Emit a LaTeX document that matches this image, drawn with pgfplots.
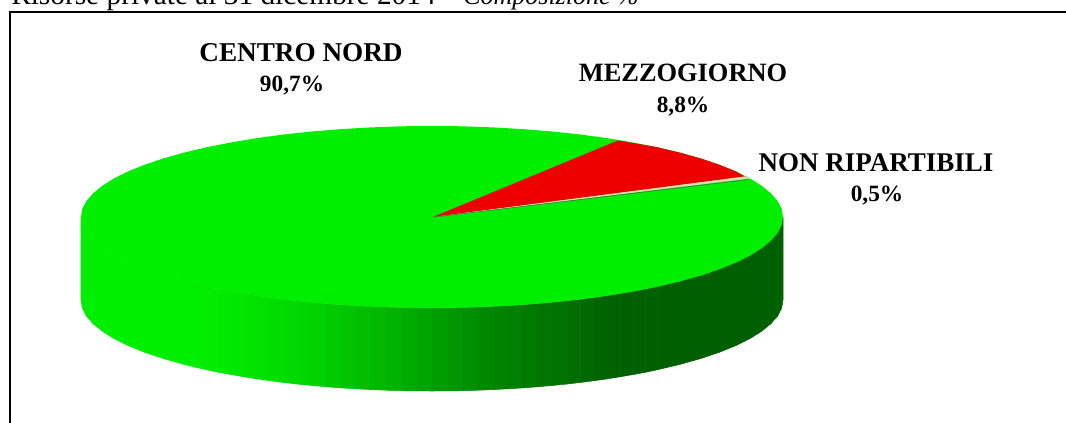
\documentclass[border=0pt]{standalone}
\usepackage{fontspec}
\setmainfont{Liberation Serif}
\usepackage{pgfplots}
\pgfplotsset{compat=1.18}

% axis runs in image pixels, 1 px = 0.75 pt
\definecolor{topgreen}{RGB}{0,238,0}
\definecolor{topred}{RGB}{238,0,0}
\definecolor{sliver}{RGB}{226,218,178}

% side wall of the disc: one row along the rim, one row along the lower edge
\pgfplotstableread{
x y g
81 217 238
82.3 224.9 238
86.3 232.8 238
93 240.6 238
102.2 248.1 238
113.9 255.5 238
128 262.5 238
144.5 269.2 238
163.1 275.5 238
183.8 281.3 238
194.9 284.1 237
206.4 286.7 236
218.3 289.2 234
230.7 291.5 232
243.4 293.7 229
256.5 295.8 226
269.9 297.7 222
283.7 299.5 219
297.7 301.1 215
312 302.5 212
326.5 303.8 205
341.2 304.9 198
356 305.8 192
371.1 306.6 186
386.2 307.2 180
401.4 307.7 174
416.7 307.9 167
432 308 160
447.3 307.9 153
462.6 307.7 146
477.8 307.2 140
492.9 306.6 134
508 305.8 129
522.8 304.9 124
537.5 303.8 120
552 302.5 116
566.3 301.1 112
580.3 299.5 108
594.1 297.7 103
607.5 295.8 98
620.6 293.7 97
633.3 291.5 96
645.7 289.2 96
657.6 286.7 96
680.2 281.3 96
700.9 275.5 96
719.5 269.2 96
736 262.5 96
750.1 255.5 96
761.8 248.1 96
771 240.6 96
777.7 232.8 96
781.7 224.9 96
783 217 96
81 300 238
82.3 307.9 238
86.3 315.8 238
93 323.6 238
102.2 331.1 238
113.9 338.5 238
128 345.5 238
144.5 352.2 238
163.1 358.5 238
183.8 364.3 238
194.9 367.1 237
206.4 369.7 236
218.3 372.2 234
230.7 374.5 232
243.4 376.7 229
256.5 378.8 226
269.9 380.7 222
283.7 382.5 219
297.7 384.1 215
312 385.5 212
326.5 386.8 205
341.2 387.9 198
356 388.8 192
371.1 389.6 186
386.2 390.2 180
401.4 390.7 174
416.7 390.9 167
432 391 160
447.3 390.9 153
462.6 390.7 146
477.8 390.2 140
492.9 389.6 134
508 388.8 129
522.8 387.9 124
537.5 386.8 120
552 385.5 116
566.3 384.1 112
580.3 382.5 108
594.1 380.7 103
607.5 378.8 98
620.6 376.7 97
633.3 374.5 96
645.7 372.2 96
657.6 369.7 96
680.2 364.3 96
700.9 358.5 96
719.5 352.2 96
736 345.5 96
750.1 338.5 96
761.8 331.1 96
771 323.6 96
777.7 315.8 96
781.7 307.9 96
783 300 96
}\wall

\begin{document}
\begin{tikzpicture}
\path[use as bounding box, clip] (0,0) rectangle (799.5pt,317.25pt);
\begin{axis}[
    at={(0,0)}, anchor=south west,
    scale only axis,
    width=799.5pt,
    height=317.25pt,
    xmin=0, xmax=1066,
    ymin=0, ymax=423,
    y dir=reverse,
    hide axis,
    clip=false,
    colormap={wallgreen}{rgb255=(0,96,0) rgb255=(0,238,0)},
    point meta min=96,
    point meta max=238,
]
% frame, open at the bottom and on the right
\addplot[black, line width=1.5pt, line cap=butt, miter limit=10] coordinates {
    (10,423) (10,12) (1066,12)
};

\addplot[surf, shader=flat, mesh/rows=2, point meta=explicit]
    table[x=x, y=y, meta=g] {\wall};

% top of the disc
\addplot[fill=topgreen, draw=none] coordinates {
    (783,217) (781.7,209.1) (777.7,201.2) (771,193.4) (761.8,185.9) (750.1,178.5)
    (736,171.5) (719.5,164.8) (700.9,158.5) (680.2,152.7) (657.6,147.3) (633.3,142.5)
    (607.5,138.2) (580.3,134.5) (552,131.5) (522.8,129.1) (492.9,127.4) (462.6,126.3)
    (432,126) (401.4,126.3) (371.1,127.4) (341.2,129.1) (312,131.5) (283.7,134.5)
    (256.5,138.2) (230.7,142.5) (206.4,147.3) (183.8,152.7) (163.1,158.5) (144.5,164.8)
    (128,171.5) (113.9,178.5) (102.2,185.9) (93,193.4) (86.3,201.2) (82.3,209.1)
    (81,217) (82.3,224.9) (86.3,232.8) (93,240.6) (102.2,248.1) (113.9,255.5)
    (128,262.5) (144.5,269.2) (163.1,275.5) (183.8,281.3) (206.4,286.7) (230.7,291.5)
    (256.5,295.8) (283.7,299.5) (312,302.5) (341.2,304.9) (371.1,306.6) (401.4,307.7)
    (432,308) (462.6,307.7) (492.9,306.6) (522.8,304.9) (552,302.5) (580.3,299.5)
    (607.5,295.8) (633.3,291.5) (657.6,286.7) (680.2,281.3) (700.9,275.5) (719.5,269.2)
    (736,262.5) (750.1,255.5) (761.8,248.1) (771,240.6) (777.7,232.8) (781.7,224.9)
};

% Mezzogiorno 8,8
\addplot[fill=topred, draw=none] coordinates {
    (433,217) (618,140.5) (633.3,143) (657.6,147.3) (680.2,152.7) (700.9,158.5)
    (719.5,164.8) (736,171.5) (744.7,176.5)
};

% Non ripartibili 0,5
\addplot[fill=sliver, draw=none] coordinates {
    (433,217) (744.7,176.5) (750.1,178.5)
};
\addplot[black!65, line width=0.35pt] coordinates {(433,217.2) (748,179.6)};

\node[anchor=base west, inner sep=0pt, font=\fontsize{22}{26}\selectfont]
    at (axis cs:11,5) {Risorse private al 31 dicembre 2014 -};
\node[anchor=base west, inner sep=0pt, font=\fontsize{19.5}{24}\selectfont\itshape]
    at (axis cs:463,5) {Composizione \%};

\node[inner sep=0pt, font=\fontsize{20.4}{24}\selectfont\bfseries, anchor=base]
    at (axis cs:301,62) {CENTRO NORD};
\node[inner sep=0pt, font=\fontsize{17.5}{24}\selectfont\bfseries, anchor=base]
    at (axis cs:292,92) {90,7\%};
\node[inner sep=0pt, font=\fontsize{19.8}{24}\selectfont\bfseries, anchor=base]
    at (axis cs:683,82) {MEZZOGIORNO};
\node[inner sep=0pt, font=\fontsize{17.5}{24}\selectfont\bfseries, anchor=base]
    at (axis cs:683,113) {8,8\%};
\node[inner sep=0pt, font=\fontsize{20.25}{24}\selectfont\bfseries, anchor=base]
    at (axis cs:876,172) {NON RIPARTIBILI};
\node[inner sep=0pt, font=\fontsize{17.5}{24}\selectfont\bfseries, anchor=base]
    at (axis cs:877,202) {0,5\%};
\end{axis}
\end{tikzpicture}
\end{document}
